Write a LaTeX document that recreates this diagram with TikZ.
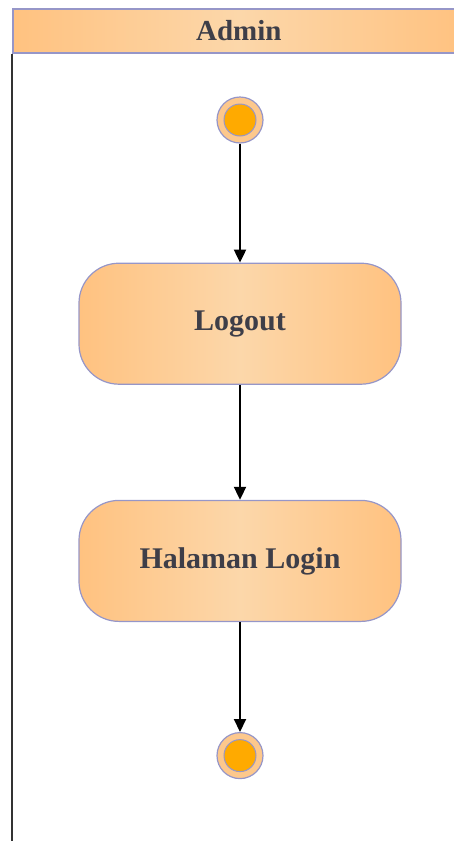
\documentclass[tikz,border=0pt]{standalone}
\usepackage{fontspec}
\setmainfont{Liberation Serif}
\usepackage{xcolor}
\usetikzlibrary{positioning,arrows.meta}

\definecolor{edgeorange}{RGB}{255,194,128}
\definecolor{midorange}{RGB}{252,215,170}
\definecolor{ringorange}{RGB}{253,200,140}
\definecolor{dotorange}{RGB}{255,170,0}
\definecolor{lavender}{RGB}{150,150,200}
\definecolor{labelgrey}{RGB}{62,62,72}

\begin{document}
\begin{tikzpicture}[
  lanehead/.style={draw=lavender, line width=0.8pt, left color=edgeorange, right color=edgeorange,
    middle color=midorange, anchor=north west, minimum width=226pt, minimum height=22pt,
    inner sep=0pt, text=labelgrey, font=\bfseries\fontsize{14.5}{17}\selectfont},
  act/.style={draw=lavender, line width=0.6pt, rounded corners=20pt, left color=edgeorange,
    right color=edgeorange, middle color=midorange, minimum width=161pt, minimum height=60.5pt,
    align=center, text=labelgrey, font=\bfseries\fontsize{15}{18}\selectfont},
  bullet/.style={circle, draw=lavender, line width=0.6pt, fill=ringorange, minimum size=23pt,
    inner sep=0pt, path picture={\filldraw[fill=dotorange, draw=lavender, line width=0.5pt]
      (path picture bounding box.center) circle (8pt);}},
  >={Triangle[width=6pt,length=6.5pt]}, line width=1pt, color=black
]
\useasboundingbox (0,0) rectangle (227pt,-420.5pt);
\node[lanehead] (head) at (6pt,-4pt) {Admin};
\coordinate (laneend) at (6pt,-421pt);
\draw[draw=black!80] (head.south west) -- (laneend);

\node[bullet] (start) at (120pt,-60pt) {};
\node[act, below=59.5pt of start] (logout) {Logout};
\node[act, below=57.5pt of logout] (login) {Halaman Login};
\node[bullet, below=55pt of login] (stop) {};

\draw[->] (start) -- (logout);
\draw[->] (logout) -- (login);
\draw[->] (login) -- (stop);
\end{tikzpicture}
\end{document}
